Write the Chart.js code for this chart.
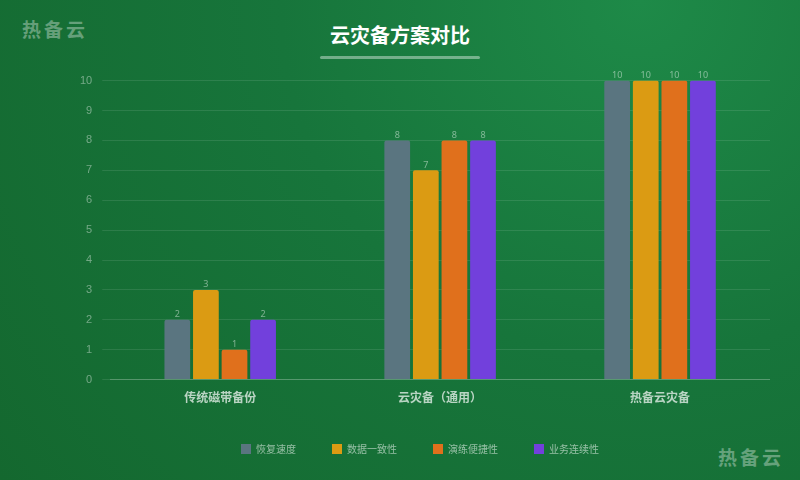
<!DOCTYPE html>
<html lang="zh">
<head>
<meta charset="UTF-8">
<script src="https://cdn.jsdelivr.net/npm/chart.js"></script>
<style>
  body { margin:0; width:800px; height:480px; overflow:hidden; font-family:"Noto Sans CJK SC",sans-serif;
    background: radial-gradient(circle at 80% 0%, #1e8a48 0%, #17753b 45%, #14682f 100%); position:relative; }
  .wm { position:absolute; color:rgba(255,255,255,0.35); font-size:19px; font-weight:bold; letter-spacing:3px; }
  h1 { position:absolute; top:20px; left:0; width:800px; text-align:center; margin:0; color:#fff; font-size:20px; font-weight:bold; }
  .line { position:absolute; top:56px; left:320px; width:160px; height:3px; background:rgba(255,255,255,0.4); border-radius:2px; }
  #wrap { position:absolute; left:70px; top:64px; width:700px; height:400px; }
</style>
</head>
<body>
<div class="wm" style="left:22px;top:15px">热备云</div>
<div class="wm" style="left:718px;top:443px">热备云</div>
<h1>云灾备方案对比</h1>
<div class="line"></div>
<div id="wrap"><canvas id="c"></canvas></div>
<script>
const categories = ['传统磁带备份', '云灾备（通用）', '热备云灾备'];
const seriesNames = ['恢复速度', '数据一致性', '演练便捷性', '业务连续性'];
const recovery = [2, 8, 10];
const consistency = [3, 7, 10];
const drill = [1, 8, 10];
const continuity = [2, 8, 10];
const colors = ['#5a7580', '#db9b13', '#e0701c', '#7240dc'];

const labelPlugin = {
  id: 'vals',
  afterDatasetsDraw(chart) {
    const ctx = chart.ctx;
    ctx.save();
    ctx.fillStyle = 'rgba(255,255,255,0.45)';
    ctx.font = '9px "Noto Sans", sans-serif';
    ctx.textAlign = 'center';
    chart.data.datasets.forEach((ds, i) => {
      chart.getDatasetMeta(i).data.forEach((bar, j) => {
        ctx.fillText(ds.data[j], bar.x, bar.y - 5);
      });
    });
    ctx.restore();
  }
};

new Chart(document.getElementById('c'), {
  type: 'bar',
  data: {
    labels: categories,
    datasets: [recovery, consistency, drill, continuity].map((d, i) => ({
      label: seriesNames[i], data: d, backgroundColor: colors[i],
      borderRadius: 2, barPercentage: 0.9, categoryPercentage: 0.52
    }))
  },
  options: {
    responsive: true, maintainAspectRatio: false, animation: false,
    layout: { padding: { top: 12 } },
    plugins: {
      legend: { position: 'bottom', labels: { color: 'rgba(255,255,255,0.55)', boxWidth: 10, boxHeight: 10,
        padding: 36, font: { size: 10, family: '"Noto Sans CJK SC"' } } },
      tooltip: { enabled: false }
    },
    scales: {
      x: { grid: { display: false }, border: { color: 'rgba(255,255,255,0.2)' },
        ticks: { color: 'rgba(255,255,255,0.7)', font: { size: 12, weight: 'bold', family: '"Noto Sans CJK SC"' } } },
      y: { min: 0, max: 10, ticks: { stepSize: 1, color: 'rgba(255,255,255,0.4)', font: { size: 11 }, padding: 10 },
        grid: { color: 'rgba(255,255,255,0.1)' }, border: { display: false } }
    }
  },
  plugins: [labelPlugin]
});
</script>
</body>
</html>
